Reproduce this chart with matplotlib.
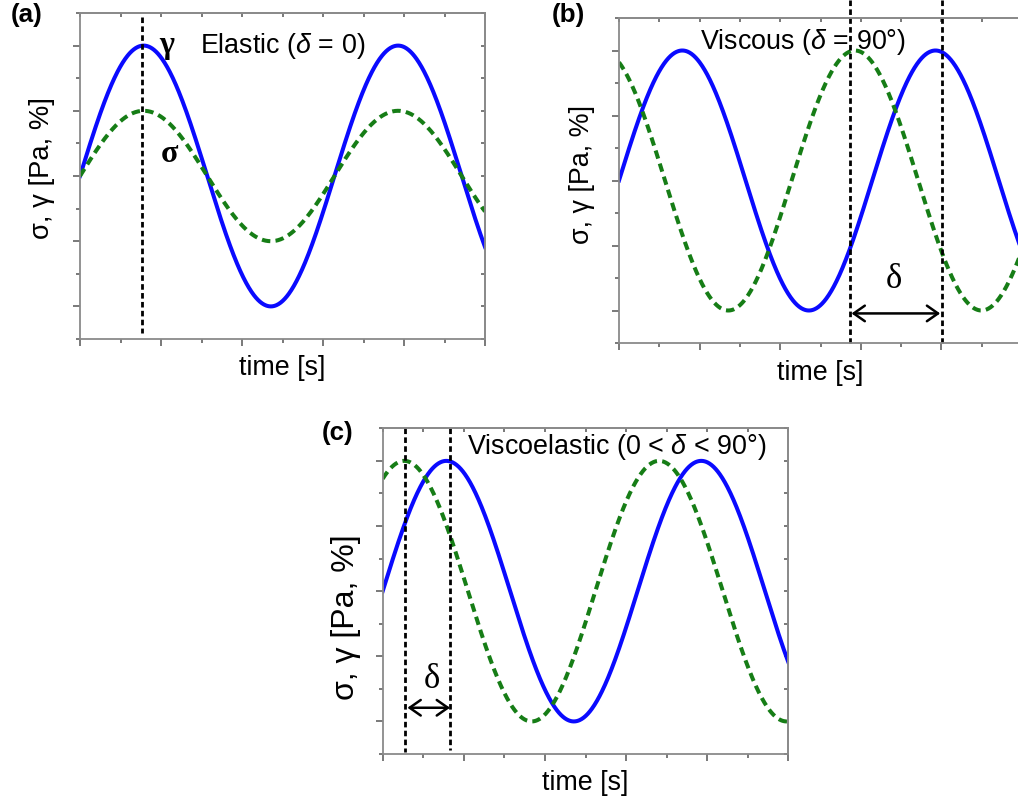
import numpy as np
import matplotlib.pyplot as plt
from matplotlib.ticker import MultipleLocator

plt.rcParams['font.family'] = ['Liberation Sans', 'DejaVu Sans']
plt.rcParams['mathtext.fontset'] = 'custom'
plt.rcParams['mathtext.rm'] = 'Liberation Serif'
plt.rcParams['mathtext.it'] = 'Liberation Sans:italic'
plt.rcParams['mathtext.bf'] = 'Liberation Serif:bold'

# wave shapes: strain (gamma) and stress (sigma)
t_start, t_end = 0, 10
gamma_amp = [4, 4, 4]
sigma_amp = [2, 4, 4]
sigma_phase = [0.0, 2.0, 1.04]       # rad, stress leads strain

titles = [r'Elastic ($\delta$ = 0)', r'Viscous ($\delta$ = 90°)',
          r'Viscoelastic (0 < $\delta$ < 90°)']
title_xy = [(2.96, 4.0), (2.01, 4.27), (2.07, 4.44)]
tags = ['(a)', '(b)', '(c)']

# dashed marker lines (x, y_top, y_bottom) and delta arrows (x0, x1, y)
marker_lines = [[(1.54, 4.88, -4.83)],
                [(5.72, 5.55, -5.0), (8.01, 5.55, -5.0)],
                [(0.55, 5.0, -4.93), (1.66, 5.0, -4.87)]]
delta_arrows = [None, (5.77, 7.97, -4.09), (0.61, 1.66, -3.58)]
delta_text_xy = [None, (6.8, -3.02), (1.21, -2.67)]

BLUE = '#0a0aff'
GREEN = '#167d16'
GRAY = '#8a8a8a'

W, H = 1018, 802
fig = plt.figure(figsize=(W / 100, H / 100), dpi=100)

# axes boxes in pixels: left, top, right, bottom
boxes = [(80, 13, 485, 339), (619, 18, 1022, 343), (382.7, 428.3, 788.3, 754)]
ylab_pos = [(-0.094, 0.525), (-0.093, 0.52), (-0.091, 0.42)]
ylab_size = [19.7, 19.4, 23.0]
xlab_y = [-0.089, -0.092, -0.089]
tag_pos = [(27, 15), (568, 15), (337.5, 433)]

t = np.linspace(t_start, t_end, 800)

for i in range(3):
    l, tp, r, b = boxes[i]
    ax = fig.add_axes([l / W, 1 - b / H, (r - l) / W, (b - tp) / H])

    gamma = gamma_amp[i] * np.sin(t)
    sigma = sigma_amp[i] * np.sin(t + sigma_phase[i])
    ax.plot(t, gamma, color=BLUE, lw=2.9)
    ax.plot(t, sigma, color=GREEN, lw=2.9, ls=(0, (2.1, 1.3)))

    for x, y0, y1 in marker_lines[i]:
        ax.plot([x, x], [y0, y1], color='k', lw=2.0, ls=(0, (2, 1.2)), clip_on=False)

    if delta_arrows[i] is not None:
        x0, x1, y = delta_arrows[i]
        ax.annotate('', xy=(x1, y), xytext=(x0, y),
                    arrowprops=dict(arrowstyle='<->,head_length=0.4,head_width=0.28',
                                    lw=1.8, color='k', mutation_scale=20,
                                    shrinkA=0, shrinkB=0))
        dx, dy = delta_text_xy[i]
        ax.text(dx, dy, r'$\mathrm{\delta}$', fontsize=25, ha='center', va='center')

    tx, ty = title_xy[i]
    ax.text(tx, ty, titles[i], fontsize=19.4, ha='left', va='center')

    if i == 0:
        ax.text(2.15, 3.95, r'$\mathbf{\gamma}$', fontsize=23, ha='center', va='center')
        ax.text(2.22, 0.67, r'$\mathbf{\sigma}$', fontsize=23, ha='center', va='center')

    ax.set_xlim(t_start, t_end)
    ax.set_ylim(-5, 5)
    ax.xaxis.set_major_locator(MultipleLocator(2))
    ax.xaxis.set_minor_locator(MultipleLocator(1))
    ax.yaxis.set_major_locator(MultipleLocator(2))
    ax.yaxis.set_minor_locator(MultipleLocator(1))
    ax.tick_params(which='both', direction='out', color='#555555', width=1.1,
                   labelbottom=False, labelleft=False)
    ax.tick_params(which='major', length=5)
    ax.tick_params(which='minor', length=3)
    for sp in ax.spines.values():
        sp.set_color(GRAY)
        sp.set_linewidth(1.3)

    # top and right ticks point inward
    top = ax.secondary_xaxis('top')
    top.xaxis.set_major_locator(MultipleLocator(2))
    top.xaxis.set_minor_locator(MultipleLocator(1))
    top.tick_params(which='both', direction='in', color='#555555', width=1.1,
                    labeltop=False, length=3)
    top.spines['top'].set_color(GRAY)
    top.spines['top'].set_linewidth(1.3)
    right = ax.secondary_yaxis('right')
    right.yaxis.set_major_locator(MultipleLocator(2))
    right.yaxis.set_minor_locator(MultipleLocator(1))
    right.tick_params(which='both', direction='in', color='#555555', width=1.1,
                      labelright=False, length=3)
    right.spines['right'].set_color(GRAY)
    right.spines['right'].set_linewidth(1.3)

    ax.set_xlabel('time [s]', fontsize=19.4)
    ax.xaxis.set_label_coords(0.5, xlab_y[i])
    ax.xaxis.label.set_va('center')
    ax.set_ylabel('σ, γ [Pa, %]', fontsize=ylab_size[i])
    ax.yaxis.set_label_coords(*ylab_pos[i])
    ax.yaxis.label.set_va('center')

    px, py = tag_pos[i]
    fig.text(px / W, 1 - py / H, tags[i], fontsize=18.7, fontweight='bold',
             ha='center', va='center')

fig.savefig('out.png', dpi=100)
